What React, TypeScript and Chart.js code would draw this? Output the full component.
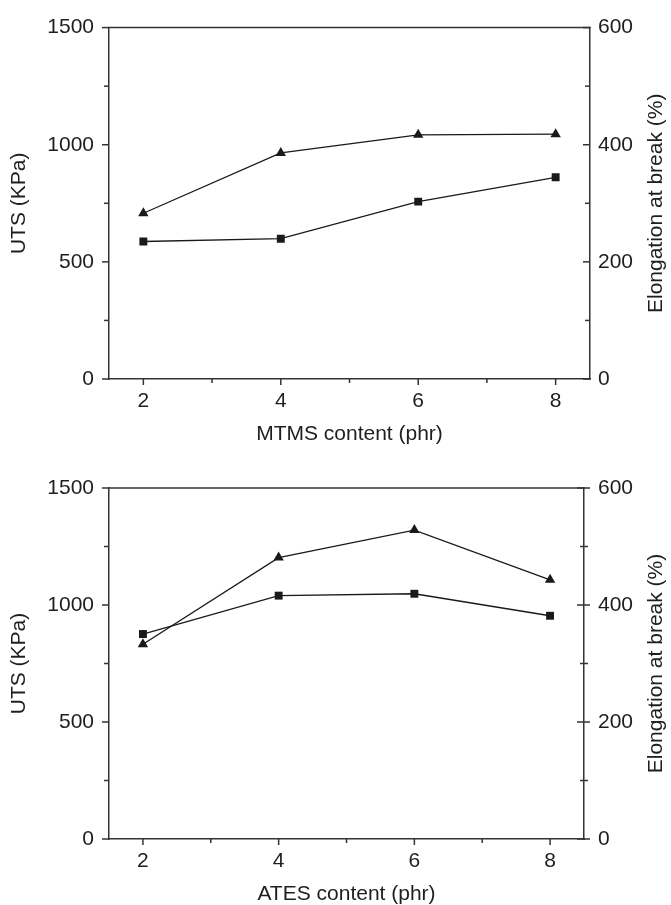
import React, { useEffect, useRef } from 'react';
import { Chart, registerables } from 'chart.js';

Chart.register(...registerables);

// ---- data ----
const xValues = [2, 4, 6, 8];
const mtmsUTS = [587, 599, 757, 861];
const mtmsElongation = [283, 386, 417, 418];
const atesUTS = [876, 1040, 1048, 954];
const atesElongation = [333, 481, 528, 443];

// ---- tick labels ----
const utsMajorTicks = [0, 500, 1000, 1500];
const utsMinorTicks = [250, 750, 1250];
const elongMajorTicks = [0, 200, 400, 600];
const elongMinorTicks = [100, 300, 500];
const xMajorTicks = [2, 4, 6, 8];
const xMinorTicks = [3, 5, 7];

const FONT = '"Liberation Sans", Arial, Helvetica, sans-serif';
const TEXT = '#1e1e1e';
const AXIS = '#333333';
const LINE = '#1a1a1a';

type TickLen = { out: number; inn: number };
type PanelTicks = {
  leftMajor: TickLen; leftMinor: TickLen;
  rightMajor: TickLen; rightMinor: TickLen;
  xMajor: TickLen; xMinor: TickLen;
};

function makeFramePlugin(ticks: PanelTicks, rightTitle: string, rightTitleX: number) {
  return {
    id: 'frameTicks',
    afterDraw(chart: any) {
      const ctx = chart.ctx as CanvasRenderingContext2D;
      const a = chart.chartArea;
      const ys = chart.scales.y;
      const y1 = chart.scales.y1;
      const xs = chart.scales.x;
      ctx.save();
      ctx.strokeStyle = AXIS;
      ctx.lineWidth = 1.5;
      const seg = (x0: number, y0: number, x2: number, y2: number) => {
        ctx.beginPath();
        ctx.moveTo(x0, y0);
        ctx.lineTo(x2, y2);
        ctx.stroke();
      };
      // top frame line
      seg(a.left - 0.75, a.top, a.right + 0.75, a.top);
      utsMajorTicks.forEach((v) => {
        const p = ys.getPixelForValue(v);
        seg(a.left - ticks.leftMajor.out, p, a.left + ticks.leftMajor.inn, p);
      });
      utsMinorTicks.forEach((v) => {
        const p = ys.getPixelForValue(v);
        seg(a.left - ticks.leftMinor.out, p, a.left + ticks.leftMinor.inn, p);
      });
      elongMajorTicks.forEach((v) => {
        const p = y1.getPixelForValue(v);
        seg(a.right - ticks.rightMajor.inn, p, a.right + ticks.rightMajor.out, p);
      });
      elongMinorTicks.forEach((v) => {
        const p = y1.getPixelForValue(v);
        seg(a.right - ticks.rightMinor.inn, p, a.right + ticks.rightMinor.out, p);
      });
      xMajorTicks.forEach((v) => {
        const p = xs.getPixelForValue(v);
        seg(p, a.bottom - ticks.xMajor.inn, p, a.bottom + ticks.xMajor.out);
      });
      xMinorTicks.forEach((v) => {
        const p = xs.getPixelForValue(v);
        seg(p, a.bottom - ticks.xMinor.inn, p, a.bottom + ticks.xMinor.out);
      });
      // right axis title, reading bottom-to-top
      ctx.fillStyle = TEXT;
      ctx.font = `21px ${FONT}`;
      ctx.textAlign = 'center';
      ctx.textBaseline = 'middle';
      ctx.translate(rightTitleX, (a.top + a.bottom) / 2);
      ctx.rotate(-Math.PI / 2);
      ctx.fillText(rightTitle, 0, 0);
      ctx.restore();
    },
  };
}

type PanelProps = {
  top: number;
  height: number;
  padTop: number;
  xHeight: number;
  rightWidth: number;
  rightPad: number;
  xTitle: string;
  xTitlePad: number;
  uts: number[];
  elong: number[];
  ticks: PanelTicks;
};

function Panel(props: PanelProps) {
  const ref = useRef<HTMLCanvasElement | null>(null);
  useEffect(() => {
    if (!ref.current) return;
    const toPts = (vals: number[]) => xValues.map((x, i) => ({ x, y: vals[i] }));
    const chart = new Chart(ref.current, {
      type: 'scatter',
      data: {
        datasets: [
          {
            label: 'UTS',
            data: toPts(props.uts),
            yAxisID: 'y',
            showLine: true,
            borderColor: LINE,
            backgroundColor: LINE,
            borderWidth: 1.3,
            pointStyle: 'rect',
            pointRadius: 5.6,
            pointHoverRadius: 5.6,
            pointBorderWidth: 0,
          },
          {
            label: 'Elongation',
            data: toPts(props.elong),
            yAxisID: 'y1',
            showLine: true,
            borderColor: LINE,
            backgroundColor: LINE,
            borderWidth: 1.3,
            pointStyle: 'triangle',
            pointRadius: 6,
            pointHoverRadius: 6,
            pointBorderWidth: 0,
          },
        ],
      },
      options: {
        responsive: false,
        animation: false,
        events: [],
        layout: { padding: { top: props.padTop, left: 0, right: 0, bottom: 0 } },
        plugins: {
          legend: { display: false },
          tooltip: { enabled: false },
        },
        scales: {
          x: {
            type: 'linear',
            position: 'bottom',
            min: 1.5,
            max: 8.5,
            afterBuildTicks: (s: any) => {
              s.ticks = xMajorTicks.map((v) => ({ value: v }));
            },
            afterFit: (s: any) => {
              s.height = props.xHeight;
            },
            grid: { display: false, drawTicks: false, tickLength: 0 },
            border: { display: true, color: AXIS, width: 1.5 },
            ticks: {
              color: TEXT,
              padding: 10,
              font: { size: 21, family: FONT },
              callback: (v: any) => String(v),
            },
            title: {
              display: true,
              text: props.xTitle,
              color: TEXT,
              font: { size: 21, family: FONT, lineHeight: 1 },
              padding: { top: 0, bottom: props.xTitlePad },
            },
          },
          y: {
            type: 'linear',
            position: 'left',
            min: 0,
            max: 1500,
            afterBuildTicks: (s: any) => {
              s.ticks = utsMajorTicks.map((v) => ({ value: v }));
            },
            afterFit: (s: any) => {
              s.width = 109;
            },
            grid: { display: false, drawTicks: false, tickLength: 0 },
            border: { display: true, color: AXIS, width: 1.5 },
            ticks: {
              color: TEXT,
              padding: 15,
              font: { size: 21, family: FONT },
              callback: (v: any) => String(v),
            },
            title: {
              display: true,
              text: 'UTS (KPa)',
              color: TEXT,
              font: { size: 21, family: FONT, lineHeight: 1 },
              padding: { top: 9, bottom: 0 },
            },
          },
          y1: {
            type: 'linear',
            position: 'right',
            min: 0,
            max: 600,
            afterBuildTicks: (s: any) => {
              s.ticks = elongMajorTicks.map((v) => ({ value: v }));
            },
            afterFit: (s: any) => {
              s.width = props.rightWidth;
            },
            grid: { display: false, drawTicks: false, tickLength: 0 },
            border: { display: true, color: AXIS, width: 1.5 },
            ticks: {
              color: TEXT,
              padding: props.rightPad,
              font: { size: 21, family: FONT },
              callback: (v: any) => String(v),
            },
          },
        },
      },
      plugins: [makeFramePlugin(props.ticks, 'Elongation at break (%)', 656.5)],
    } as any);
    return () => chart.destroy();
  }, []);
  return (
    <canvas
      ref={ref}
      width={671}
      height={props.height}
      style={{ position: 'absolute', left: 0, top: props.top, width: 671, height: props.height, display: 'block' }}
    />
  );
}

const topTicks: PanelTicks = {
  leftMajor: { out: 7, inn: 0 },
  leftMinor: { out: 5, inn: 0 },
  rightMajor: { out: 0, inn: 7 },
  rightMinor: { out: 0, inn: 5 },
  xMajor: { out: 6, inn: 0 },
  xMinor: { out: 4, inn: 0 },
};

const bottomTicks: PanelTicks = {
  leftMajor: { out: 7, inn: 0 },
  leftMinor: { out: 5, inn: 0 },
  rightMajor: { out: 6, inn: 7 },
  rightMinor: { out: 4, inn: 4 },
  xMajor: { out: 6, inn: 0 },
  xMinor: { out: 4, inn: 0 },
};

export default function App() {
  return (
    <div style={{ position: 'fixed', left: 0, top: 0, width: 671, height: 905, overflow: 'hidden', background: '#fff' }}>
      <Panel
        top={0}
        height={450}
        padTop={22}
        xHeight={71}
        rightWidth={81}
        rightPad={8}
        xTitle="MTMS content (phr)"
        xTitlePad={5}
        uts={mtmsUTS}
        elong={mtmsElongation}
        ticks={topTicks}
      />
      <Panel
        top={450}
        height={455}
        padTop={38}
        xHeight={66}
        rightWidth={87}
        rightPad={14}
        xTitle="ATES content (phr)"
        xTitlePad={0}
        uts={atesUTS}
        elong={atesElongation}
        ticks={bottomTicks}
      />
    </div>
  );
}
